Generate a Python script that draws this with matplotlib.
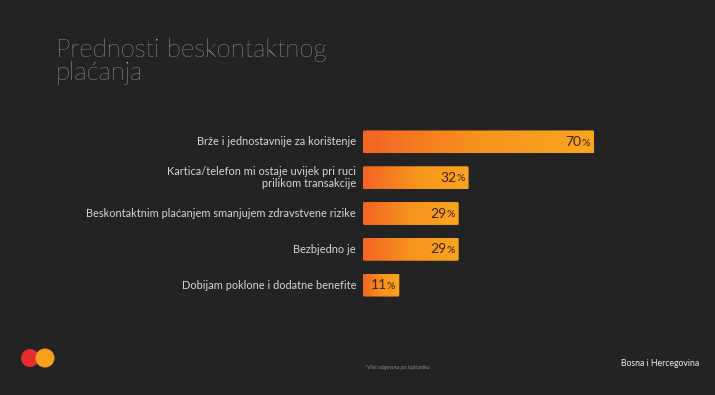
import matplotlib
matplotlib.use("Agg")
import matplotlib.pyplot as plt
import numpy as np
from matplotlib.patches import FancyBboxPatch, Circle
from matplotlib.colors import LinearSegmentedColormap

categories = [
    "Brže i jednostavnije za korištenje",
    "Kartica/telefon mi ostaje uvijek pri ruci\nprilikom transakcije",
    "Beskontaktnim plaćanjem smanjujem zdravstvene rizike",
    "Bezbjedno je",
    "Dobijam poklone i dodatne benefite",
]
values = [70, 32, 29, 29, 11]
title_lines = ["Prednosti beskontaktnog", "plaćanja"]
footnote = "*Više odgovora po ispitaniku"
region = "Bosna i Hercegovina"

BG = "#232323"
W, H = 715, 395
fig = plt.figure(figsize=(W / 100, H / 100), dpi=100, facecolor=BG)

ax_left, ax_right = 363, 663
ax_top, ax_bot = 124, 303
ax = fig.add_axes([ax_left / W, 1 - ax_bot / H, (ax_right - ax_left) / W, (ax_bot - ax_top) / H])
ax.set_facecolor(BG)
ax.axis("off")

cmap = LinearSegmentedColormap.from_list("og", ["#F26522", "#F7931E", "#FBA51E"])
grad = np.linspace(0, 1, 256).reshape(1, -1)
bh = 0.64
for i, (cat, v) in enumerate(zip(categories, values)):
    patch = FancyBboxPatch((0, i - bh / 2), v, bh,
                           boxstyle="round,pad=0,rounding_size=0.6",
                           mutation_aspect=0.05,
                           facecolor="none", edgecolor="none")
    ax.add_patch(patch)
    im = ax.imshow(grad, cmap=cmap, aspect="auto",
                   extent=(0, v, i + bh / 2, i - bh / 2), zorder=2)
    im.set_clip_path(patch)
    ax.annotate("%", xy=(v, i), xytext=(-3, -0.8), textcoords="offset points",
                ha="right", va="center", fontsize=7.5, color="#3b2410",
                family="Lato", zorder=3)
    ax.annotate(str(v), xy=(v, i), xytext=(-9, 0), textcoords="offset points",
                ha="right", va="center", fontsize=10, color="#3b2410",
                family="Lato", zorder=3)
    ax.annotate(cat, xy=(0, i), xytext=(-5, 0), textcoords="offset points",
                ha="right", va="center", fontsize=7.9, color="#d6d6d6",
                family="Lato", multialignment="right", linespacing=1.1,
                annotation_clip=False)

ax.set_xlim(0, (ax_right - ax_left) / 3.3)
ax.set_ylim(len(values) - 0.5, -0.5)

fig.text(56 / W, 1 - 57 / H, title_lines[0], ha="left", va="baseline", fontsize=18.5,
         color="#e6e6e6", family="Lato", fontweight="light")
fig.text(56 / W, 1 - 80 / H, title_lines[1], ha="left", va="baseline", fontsize=18.5,
         color="#e6e6e6", family="Lato", fontweight="light")

fig.text(365 / W, 1 - 367 / H, footnote, ha="left", va="center", fontsize=4,
         color="#8a8a8a", family="Lato", style="italic")
fig.text(699 / W, 1 - 363 / H, region, ha="right", va="center", fontsize=6.2,
         color="#f0f0f0", family="Lato")

lax = fig.add_axes([0, 0, 1, 1], facecolor="none")
lax.set_xlim(0, W)
lax.set_ylim(H, 0)
lax.axis("off")
lax.add_patch(Circle((30, 358), 9, facecolor="#E52E2B", edgecolor="none"))
lax.add_patch(Circle((45, 358), 9.5, facecolor="#F79E1B", edgecolor="none"))

fig.savefig("out.png", dpi=100, facecolor=BG)
